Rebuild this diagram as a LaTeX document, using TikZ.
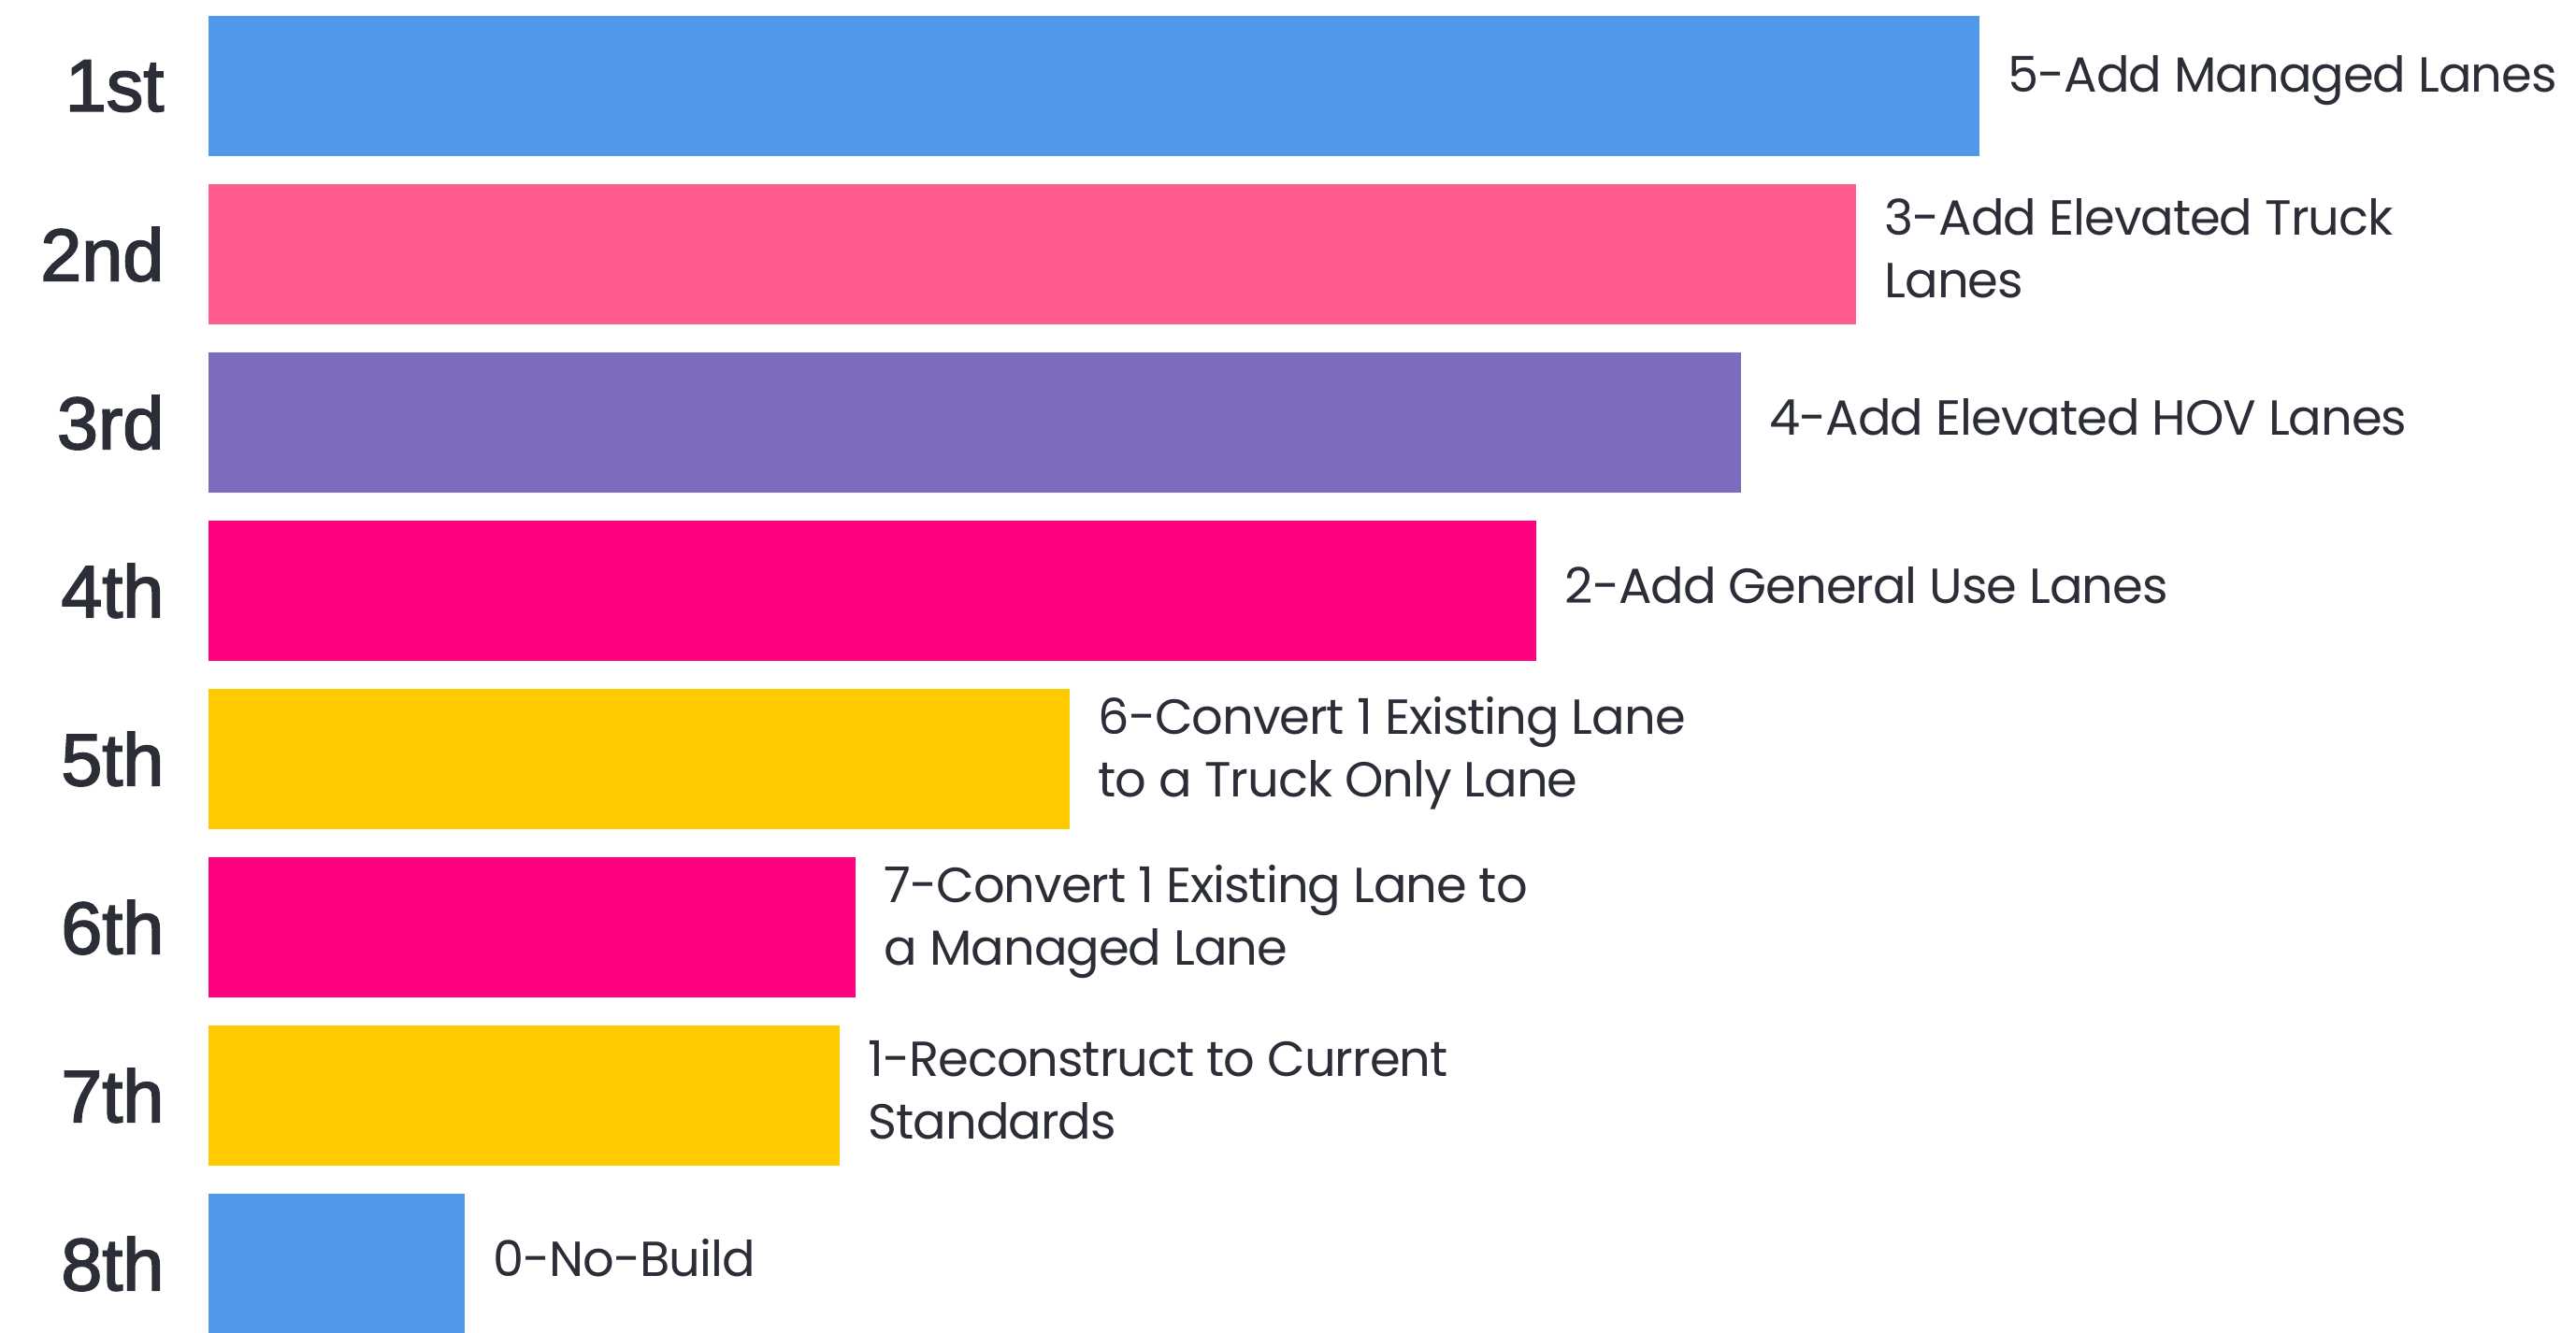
\documentclass[tikz,border=0pt]{standalone}
\usepackage{fontspec}
\setmainfont[LetterSpace=-2]{Poppins}
\newfontfamily\rankfont[FakeBold=2.2]{Liberation Sans}
\definecolor{barblue}{HTML}{4F98EB}
\definecolor{barpink}{HTML}{FF5C8D}
\definecolor{barpurple}{HTML}{7D6BBE}
\definecolor{barmagenta}{HTML}{FF0080}
\definecolor{baryellow}{HTML}{FFCA00}
\definecolor{inkgray}{HTML}{2B2E36}
\begin{document}
\begin{tikzpicture}[barbox/.style={rectangle,inner sep=0,outer sep=0,minimum height=1.5cm,anchor=west},
  ranktext/.style={anchor=east,inner sep=0,font=\rankfont\fontsize{22.5}{26}\selectfont,text=inkgray},
  lanetext/.style={anchor=west,align=left,inner sep=0,font=\fontsize{15}{19}\selectfont,text=inkgray}]
  \useasboundingbox (0,0) rectangle (27.55,-14.25);
  \foreach \i/\r/\w/\c/\t in {1/1st/18.94/barblue/{5-Add Managed Lanes},
      2/2nd/17.62/barpink/{3-Add Elevated Truck\\Lanes},
      3/3rd/16.39/barpurple/{4-Add Elevated HOV Lanes},
      4/4th/14.20/barmagenta/{2-Add General Use Lanes},
      5/5th/9.21/baryellow/{6-Convert 1 Existing Lane\\to a Truck Only Lane},
      6/6th/6.92/barmagenta/{7-Convert 1 Existing Lane to\\a Managed Lane},
      7/7th/6.75/baryellow/{1-Reconstruct to Current\\Standards},
      8/8th/2.74/barblue/{0-No-Build}}
    {\pgfmathsetmacro{\yc}{-0.92-1.8*(\i-1)}
     \node[ranktext] (rank\i) at (1.76,\yc) {\r};
     \node[barbox,fill=\c,minimum width=\w cm] (bar\i) at (2.23,\yc) {};
     \node[lanetext] (lane\i) at ([xshift=0.3cm,yshift=0.06cm]bar\i.east) {\t};}
\end{tikzpicture}
\end{document}
